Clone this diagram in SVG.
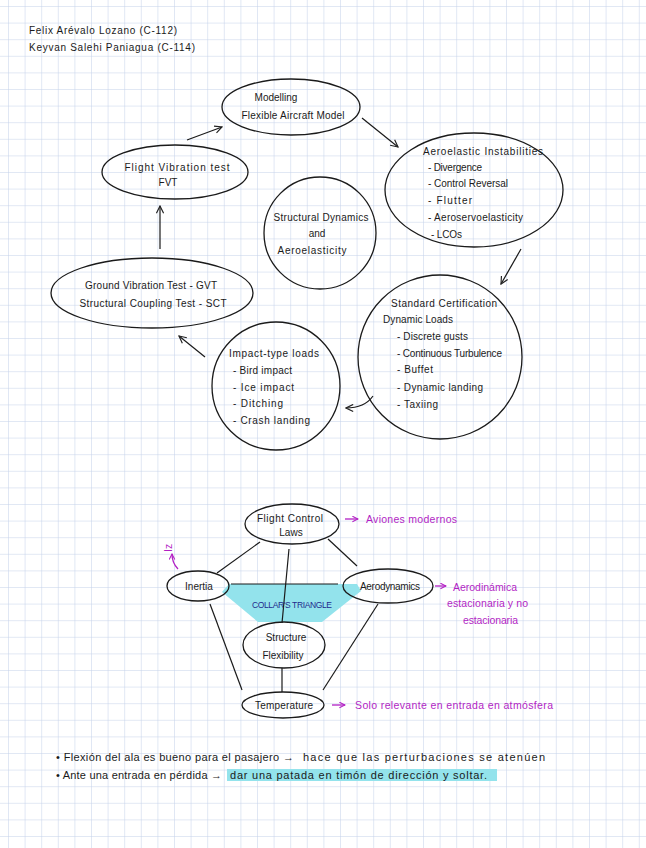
<svg xmlns="http://www.w3.org/2000/svg" width="646" height="848" viewBox="0 0 646 848">
<defs>
<pattern id="grid" x="8" y="6" width="16.6" height="16.6" patternUnits="userSpaceOnUse">
<path d="M0,0 H16.6 M0,0 V16.6" fill="none" stroke="#c3d1ea" stroke-width="1"/>
</pattern>
<marker id="arr" viewBox="0 0 10 10" refX="9" refY="5" markerWidth="9" markerHeight="9" orient="auto" markerUnits="userSpaceOnUse">
<path d="M1,1 L9,5 L1,9" fill="none" stroke="#222" stroke-width="1.3"/>
</marker>
<marker id="arrm" viewBox="0 0 10 10" refX="9" refY="5" markerWidth="7" markerHeight="7" orient="auto" markerUnits="userSpaceOnUse">
<path d="M1,1 L9,5 L1,9" fill="none" stroke="#b21fc4" stroke-width="1.5"/>
</marker>
</defs>
<style>
.t{font-family:"Liberation Sans","DejaVu Sans",sans-serif;font-size:10px;fill:#1a1a1a}
.b{font-size:11px}
.c{text-anchor:middle}
.n{fill:none;stroke:#1a1a1a;stroke-width:1.3}
.l{fill:none;stroke:#1a1a1a;stroke-width:1.2}
.m{font-family:"Liberation Sans","DejaVu Sans",sans-serif;font-size:10.5px;fill:#b21fc4}
.ml{fill:none;stroke:#b21fc4;stroke-width:1.3}
</style>
<rect width="646" height="848" fill="#ffffff"/>
<rect width="646" height="848" fill="url(#grid)"/>

<g id="authors">
<text class="t" x="29" y="34" textLength="148" lengthAdjust="spacing">Felix Arévalo Lozano (C-112)</text>
<text class="t" x="29" y="51" textLength="166" lengthAdjust="spacing">Keyvan Salehi Paniagua (C-114)</text>
</g>

<g id="connectors">
<line class="l" x1="187" y1="140" x2="222" y2="127" marker-end="url(#arr)"/>
<line class="l" x1="362" y1="118" x2="398" y2="147" marker-end="url(#arr)"/>
<line class="l" x1="521" y1="249" x2="501" y2="284" marker-end="url(#arr)"/>
<path class="l" d="M373,396 C366,406 356,408 346,408" marker-end="url(#arr)"/>
<line class="l" x1="205" y1="357" x2="179" y2="336" marker-end="url(#arr)"/>
<line class="l" x1="160" y1="249" x2="160" y2="206" marker-end="url(#arr)"/>
<line class="l" x1="260" y1="542" x2="217" y2="573"/>
<line class="l" x1="328" y1="539" x2="357" y2="566"/>
<line class="l" x1="210" y1="604" x2="242" y2="690"/>
<line class="l" x1="378" y1="604" x2="323" y2="690"/>
<line class="l" x1="282" y1="668" x2="282" y2="692"/>
</g>

<g id="modelling">
<ellipse class="n" cx="291" cy="107" rx="69" ry="28"/>
<text class="t c" x="276" y="101">Modelling</text>
<text class="t c" x="293" y="119" textLength="103" lengthAdjust="spacing">Flexible Aircraft Model</text>
</g>

<g id="aeroelastic">
<ellipse class="n" cx="474" cy="190" rx="89" ry="57"/>
<text class="t" x="423" y="155" textLength="120" lengthAdjust="spacing">Aeroelastic Instabilities</text>
<text class="t" x="428" y="171" textLength="54" lengthAdjust="spacing">- Divergence</text>
<text class="t" x="428" y="187" textLength="80" lengthAdjust="spacing">- Control Reversal</text>
<text class="t" x="428" y="204" textLength="44" lengthAdjust="spacing">- Flutter</text>
<text class="t" x="428" y="221" textLength="95" lengthAdjust="spacing">- Aeroservoelasticity</text>
<text class="t" x="431" y="238" textLength="31" lengthAdjust="spacing">- LCOs</text>
</g>

<g id="fvt">
<ellipse class="n" cx="175" cy="172" rx="73" ry="27"/>
<text class="t c" x="177" y="171" textLength="105" lengthAdjust="spacing">Flight Vibration test</text>
<text class="t c" x="168" y="186">FVT</text>
</g>

<g id="structural">
<circle class="n" cx="320" cy="233" r="56"/>
<text class="t c" x="321" y="221" textLength="95" lengthAdjust="spacing">Structural Dynamics</text>
<text class="t c" x="317" y="237">and</text>
<text class="t c" x="312" y="254" textLength="69" lengthAdjust="spacing">Aeroelasticity</text>
</g>

<g id="gvt">
<ellipse class="n" cx="152" cy="293" rx="101" ry="35"/>
<text class="t c" x="151" y="289" textLength="132" lengthAdjust="spacing">Ground Vibration Test - GVT</text>
<text class="t c" x="153" y="307" textLength="147" lengthAdjust="spacing">Structural Coupling Test - SCT</text>
</g>

<g id="certification">
<circle class="n" cx="440" cy="357" r="82"/>
<text class="t" x="391" y="307" textLength="106" lengthAdjust="spacing">Standard Certification</text>
<text class="t" x="383" y="323" textLength="70" lengthAdjust="spacing">Dynamic Loads</text>
<text class="t" x="397" y="340" textLength="71" lengthAdjust="spacing">- Discrete gusts</text>
<text class="t" x="397" y="357" textLength="105" lengthAdjust="spacing">- Continuous Turbulence</text>
<text class="t" x="397" y="373" textLength="36" lengthAdjust="spacing">- Buffet</text>
<text class="t" x="397" y="391" textLength="86" lengthAdjust="spacing">- Dynamic landing</text>
<text class="t" x="397" y="408" textLength="41" lengthAdjust="spacing">- Taxiing</text>
</g>

<g id="impact">
<circle class="n" cx="276" cy="386" r="64"/>
<text class="t" x="229" y="357" textLength="90" lengthAdjust="spacing">Impact-type loads</text>
<text class="t" x="233" y="374" textLength="59" lengthAdjust="spacing">- Bird impact</text>
<text class="t" x="233" y="391" textLength="61" lengthAdjust="spacing">- Ice impact</text>
<text class="t" x="233" y="407" textLength="50" lengthAdjust="spacing">- Ditching</text>
<text class="t" x="233" y="424" textLength="77" lengthAdjust="spacing">- Crash landing</text>
</g>

<g id="collar-triangle">
<polygon points="229,584 357,584 361,591 322,622 258,622 222,592" fill="#93e3ec"/>
<line class="l" x1="231" y1="584" x2="338" y2="584"/>
<line class="l" x1="289" y1="549" x2="282" y2="623"/>
<text x="292" y="608" text-anchor="middle" font-family="Liberation Sans, DejaVu Sans, sans-serif" font-size="8.5" fill="#1f2a8c" textLength="80" lengthAdjust="spacing">COLLAR'S TRIANGLE</text>
</g>

<g id="flight-control">
<ellipse class="n" cx="292" cy="524" rx="47" ry="20"/>
<text class="t c" x="290" y="522" textLength="66" lengthAdjust="spacing">Flight Control</text>
<text class="t c" x="291" y="536">Laws</text>
</g>

<g id="inertia">
<ellipse class="n" cx="198" cy="586" rx="31" ry="15"/>
<text class="t c" x="199" y="590">Inertia</text>
</g>

<g id="aerodynamics">
<ellipse class="n" cx="388" cy="586" rx="45" ry="17"/>
<text class="t c" x="390" y="590" textLength="60" lengthAdjust="spacing">Aerodynamics</text>
</g>

<g id="structure">
<ellipse class="n" cx="284" cy="645" rx="41" ry="23"/>
<text class="t c" x="286" y="641">Structure</text>
<text class="t c" x="283" y="659">Flexibility</text>
</g>

<g id="temperature">
<ellipse class="n" cx="283" cy="705" rx="41" ry="13"/>
<text class="t c" x="284" y="709" textLength="58" lengthAdjust="spacing">Temperature</text>
</g>

<g id="annotations">
<line class="ml" x1="345" y1="519" x2="358" y2="519" marker-end="url(#arrm)"/>
<text class="m" x="366" y="523" textLength="91" lengthAdjust="spacing">Aviones modernos</text>
<line class="ml" x1="435" y1="586" x2="446" y2="586" marker-end="url(#arrm)"/>
<text class="m" x="453" y="591" textLength="64" lengthAdjust="spacing">Aerodinámica</text>
<text class="m" x="447" y="607" textLength="81" lengthAdjust="spacing">estacionaria y no</text>
<text class="m" x="463" y="624" textLength="55" lengthAdjust="spacing">estacionaria</text>
<line class="ml" x1="332" y1="705" x2="345" y2="705" marker-end="url(#arrm)"/>
<text class="m" x="355" y="709" textLength="198" lengthAdjust="spacing">Solo relevante en entrada en atmósfera</text>
<path class="ml" d="M178,569 C174,565 172,561 172,554" marker-end="url(#arrm)"/>
<text class="m" x="0" y="0" font-size="8" transform="translate(172,552) rotate(-90)">Iz</text>
</g>

<g id="notes">
<rect x="227" y="769" width="270" height="12" fill="#93e3ec"/>
<text class="t b" x="56" y="761" textLength="238" lengthAdjust="spacing">• Flexión del ala es bueno para el pasajero →</text>
<text class="t b" x="303" y="761" textLength="242" lengthAdjust="spacing">hace que las perturbaciones se atenúen</text>
<text class="t b" x="56" y="779" textLength="166" lengthAdjust="spacing">• Ante una entrada en pérdida →</text>
<text class="t b" x="230" y="779" textLength="257" lengthAdjust="spacing">dar una patada en timón de dirección y soltar.</text>
</g>
</svg>
